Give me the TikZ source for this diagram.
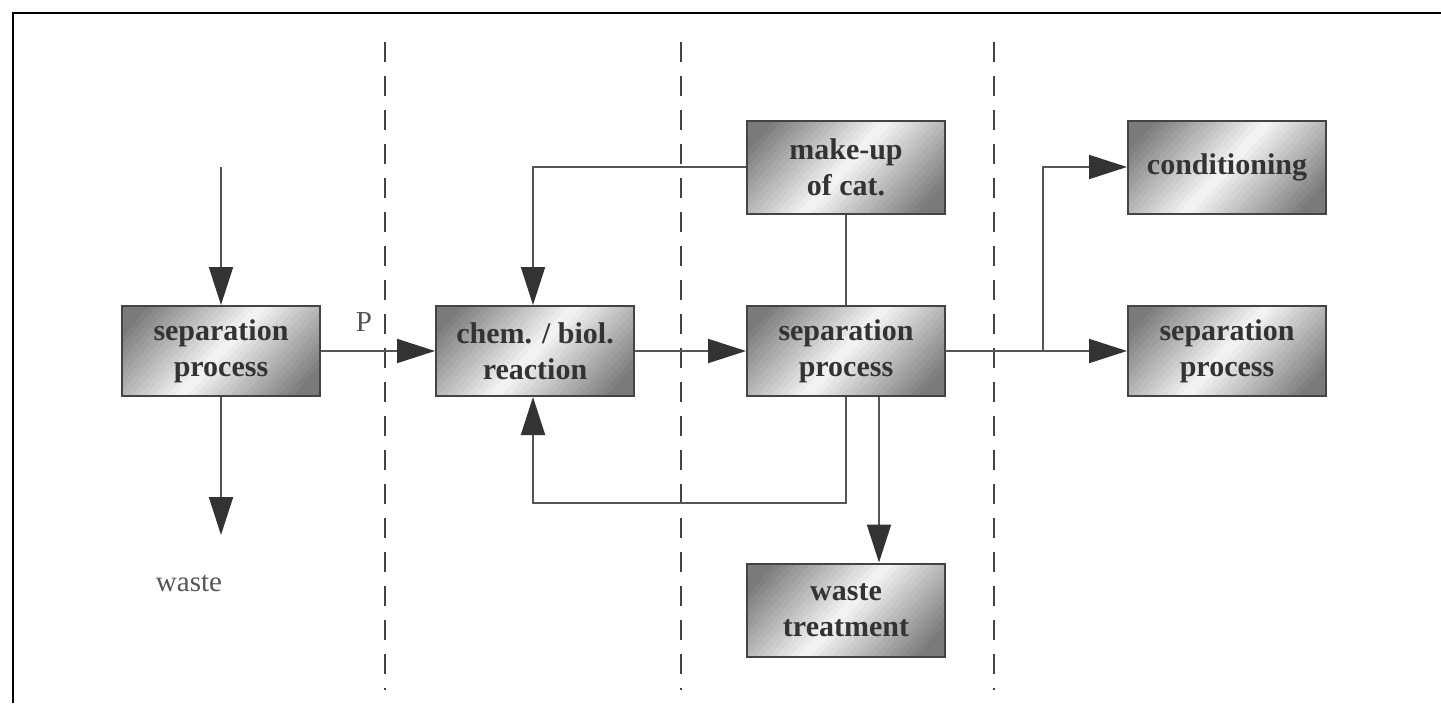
\documentclass[tikz,border=0pt]{standalone}
\usepackage{fontspec}
\setmainfont{Liberation Serif}
\usetikzlibrary{arrows.meta}
\definecolor{linec}{HTML}{555555}
\definecolor{tipc}{HTML}{333333}
\definecolor{boxline}{HTML}{444444}
\definecolor{txtc}{HTML}{333333}
\definecolor{shdark}{HTML}{7A7A7A}
\definecolor{shlight}{HTML}{F6F6F6}
% #1 centre coordinate, #2 half width (px), #3 half height (px)
\newcommand\mygradrect[3]{%
  \begin{scope}
    \clip ([shift={(-#2,-#3)}]#1) rectangle ([shift={(#2,#3)}]#1);
    \foreach \i in {-21,...,20}{%
      \pgfmathsetmacro\pct{min(100,abs(\i*7+3.5)/115*100)}%
      \fill[color=shdark!\pct!shlight]
        ([shift={(\i*7-54,60)}]#1) -- ([shift={(\i*7+7.6-54,60)}]#1) --
        ([shift={(\i*7+7.6+54,-60)}]#1) -- ([shift={(\i*7+54,-60)}]#1) -- cycle;
    }
  \end{scope}}
\tikzset{
  box/.style={draw=boxline, line width=1pt, minimum width=99pt, minimum height=45pt,
    inner sep=0pt, align=center, font=\fontsize{15}{18}\selectfont\bfseries, text=txtc},
  conn/.style={draw=linec, line width=1pt},
  arr/.style={conn, -{Triangle[length=19pt,width=12pt,color=tipc]}},
  dashline/.style={draw=boxline, line width=0.8pt, dash pattern=on 10pt off 7pt},
  lbl/.style={font=\fontsize{14.5}{17}\selectfont, text=linec, inner sep=0pt}
}
\begin{document}
\begin{tikzpicture}[x=0.5pt, y=-0.5pt]
\useasboundingbox (0,0) rectangle (1441,703);
% frame
\draw[line width=1pt, black] (13,703) -- (13,13) -- (1441,13);
% dashed separators
\draw[dashline] (385,42) -- (385,690);
\draw[dashline] (681,42) -- (681,690);
\draw[dashline] (994,42) -- (994,690);
% box centres and gradients
\coordinate (c1) at (221,351);
\coordinate (c2) at (535,351);
\coordinate (c3) at (846,351);
\coordinate (c4) at (846,167);
\coordinate (c5) at (846,610);
\coordinate (c6) at (1227,167);
\coordinate (c7) at (1227,351);
\mygradrect{c1}{99}{45}
\mygradrect{c2}{99}{45}
\mygradrect{c3}{99}{45}
\mygradrect{c4}{99}{46.5}
\mygradrect{c5}{99}{46.5}
\mygradrect{c6}{99}{46.5}
\mygradrect{c7}{99}{45}
% boxes
\node[box] (b1) at (c1) {separation\\process};
\node[box] (b2) at (c2) {chem. / biol.\\reaction};
\node[box] (b3) at (c3) {separation\\process};
\node[box, minimum height=46.5pt] (b4) at (c4) {make-up\\of cat.};
\node[box, minimum height=46.5pt] (b5) at (c5) {waste\\treatment};
\node[box, minimum height=46.5pt] (b6) at (c6) {conditioning};
\node[box] (b7) at (c7) {separation\\process};
% labels
\node[lbl] (p) at (364,322) {P};
\node[lbl] (wl) at (189,583) {waste};
% coordinates
\coordinate (in) at (221,167);
\coordinate (w) at (221,535);
\coordinate (r) at (846,503);
\coordinate (j) at (1043,351);
% connectors
\draw[arr] (in) -- (b1.north);
\draw[arr] (b1.south) -- (w);
\draw[arr] (b1.east) -- (b2.west);
\draw[arr] (b2.east) -- (b3.west);
\draw[arr] (b4.west) -| ([xshift=-1pt]b2.north);
\draw[conn] (b4.south) -- (b3.north);
\draw[arr] (b3.south) -- (r) -| ([xshift=-1pt]b2.south);
\draw[arr] ([xshift=16.5pt]b3.south) -- ([xshift=16.5pt]b5.north);
\draw[conn] (b3.east) -- (j);
\draw[arr] (j) -- (b7.west);
\draw[arr] (j) |- (b6.west);
\end{tikzpicture}
\end{document}
